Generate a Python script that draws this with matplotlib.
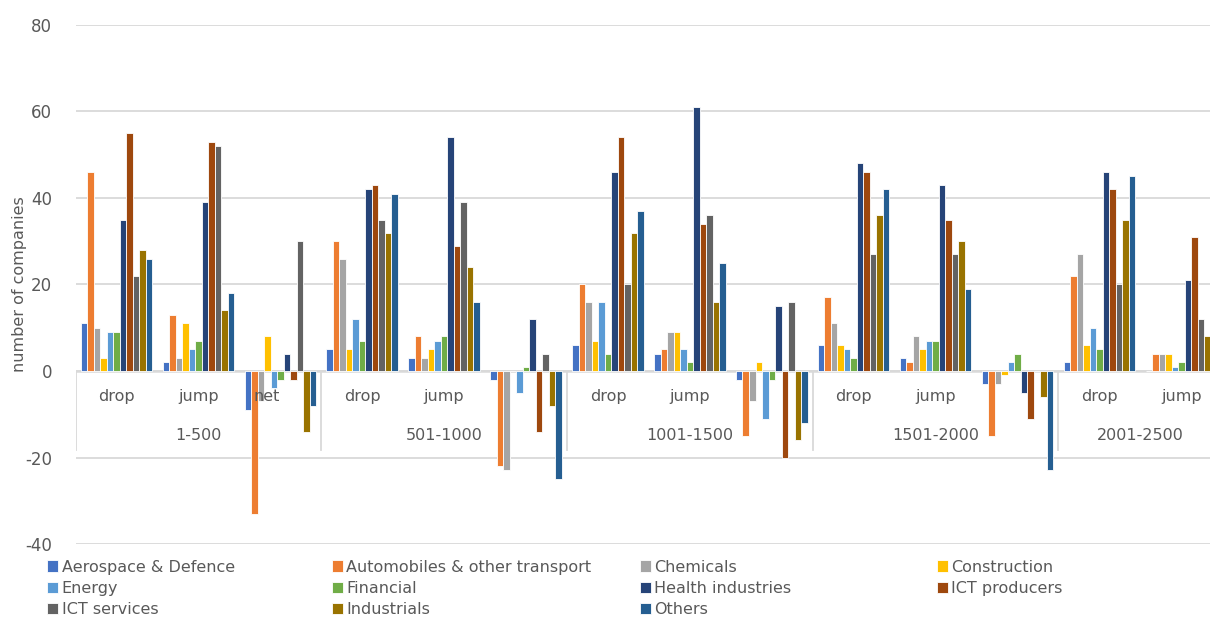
import matplotlib.pyplot as plt
import numpy as np

# categories on the x axis
groups = ['1-500', '501-1000', '1001-1500', '1501-2000', '2001-2500']
sub_labels = ['drop', 'jump', 'net', 'drop', 'jump', 'net', 'drop', 'jump', 'net',
              'drop', 'jump', 'net', 'drop', 'jump']
sectors = ['Aerospace & Defence', 'Automobiles & other transport', 'Chemicals', 'Construction',
           'Energy', 'Financial', 'Health industries', 'ICT producers', 'ICT services',
           'Industrials', 'Others']
colors = ['#4472C4', '#ED7D31', '#A5A5A5', '#FFC000', '#5B9BD5', '#70AD47',
          '#264478', '#9E480E', '#636363', '#997300', '#255E91']

# one row per category (drop / jump / net per rank band), one column per sector
values = [
    [11, 46, 10, 3, 9, 9, 35, 55, 22, 28, 26],       # 1-500 drop
    [2, 13, 3, 11, 5, 7, 39, 53, 52, 14, 18],        # 1-500 jump
    [-9, -33, -7, 8, -4, -2, 4, -2, 30, -14, -8],    # 1-500 net
    [5, 30, 26, 5, 12, 7, 42, 43, 35, 32, 41],       # 501-1000 drop
    [3, 8, 3, 5, 7, 8, 54, 29, 39, 24, 16],          # 501-1000 jump
    [-2, -22, -23, 0, -5, 1, 12, -14, 4, -8, -25],   # 501-1000 net
    [6, 20, 16, 7, 16, 4, 46, 54, 20, 32, 37],       # 1001-1500 drop
    [4, 5, 9, 9, 5, 2, 61, 34, 36, 16, 25],          # 1001-1500 jump
    [-2, -15, -7, 2, -11, -2, 15, -20, 16, -16, -12],  # 1001-1500 net
    [6, 17, 11, 6, 5, 3, 48, 46, 27, 36, 42],        # 1501-2000 drop
    [3, 2, 8, 5, 7, 7, 43, 35, 27, 30, 19],          # 1501-2000 jump
    [-3, -15, -3, -1, 2, 4, -5, -11, 0, -6, -23],    # 1501-2000 net
    [2, 22, 27, 6, 10, 5, 46, 42, 20, 35, 45],       # 2001-2500 drop
    [0, 4, 4, 4, 1, 2, 21, 31, 12, 8, np.nan],       # 2001-2500 jump (cut off)
]
group_sizes = [3, 3, 3, 3, 2]

grey_text = '#595959'
grid_col = '#D9D9D9'
plt.rcParams['font.family'] = ['DejaVu Sans']
plt.rcParams['axes.unicode_minus'] = False

fig = plt.figure(figsize=(12.1, 6.17), dpi=100)
ax = fig.add_axes([0.0624, 0.1183, 0.9376, 0.8412])

data = np.array(values, dtype=float)
x = np.arange(len(sub_labels))
bw = 0.0794
for j, name in enumerate(sectors):
    offs = (j - 5) * bw
    ax.bar(x + offs, data[:, j], width=bw, color=colors[j], edgecolor='white',
           linewidth=0.6, label=name, zorder=3)

ax.set_xlim(-0.5, 13.35)
ax.set_ylim(-40, 80)
ax.set_yticks(np.arange(-40, 81, 20))
ax.yaxis.grid(True, color=grid_col, linewidth=1.3, zorder=0)
ax.axhline(0, color=grid_col, linewidth=1.8, zorder=2)
ax.tick_params(axis='y', length=0, pad=17, labelsize=12, labelcolor=grey_text)
ax.set_xticks([])
for s in ax.spines.values():
    s.set_visible(False)
fig.text(20 / 1210, 1 - 284 / 617, 'number of companies', rotation=90,
         ha='center', va='center', fontsize=11.5, color=grey_text)

# sub category labels (only first "net" is shown in the original)
for i, lab in enumerate(sub_labels):
    if lab == 'net' and i != 2:
        continue
    xpos = i if lab != 'net' else i - 0.16
    ax.text(xpos, -6, lab, ha='center', va='center', fontsize=11.5, color=grey_text)

# group labels and separators
start = 0
bounds = [-0.5]
for g, n in zip(groups, group_sizes):
    ax.text(start + (n - 1) / 2, -14.8, g, ha='center', va='center',
            fontsize=11.5, color=grey_text)
    start += n
    bounds.append(start - 0.5)
for b in bounds[:-1]:
    ax.plot([b, b], [0, -18.2], color=grid_col, linewidth=1.3, zorder=1)

# legend: four columns of equal width
handles, labels = ax.get_legend_handles_labels()
col_x = [0.039, 0.274, 0.529, 0.774]
for c in range(4):
    idx = list(range(c, len(sectors), 4))
    fig.legend([handles[i] for i in idx], [labels[i] for i in idx],
               loc='upper left', bbox_to_anchor=(col_x[c], 0.093), frameon=False,
               fontsize=11.5, handlelength=0.7, handleheight=0.7, handletextpad=0.2,
               labelspacing=0.4, borderaxespad=0, borderpad=0, labelcolor=grey_text)

fig.savefig('out.png', dpi=100)
